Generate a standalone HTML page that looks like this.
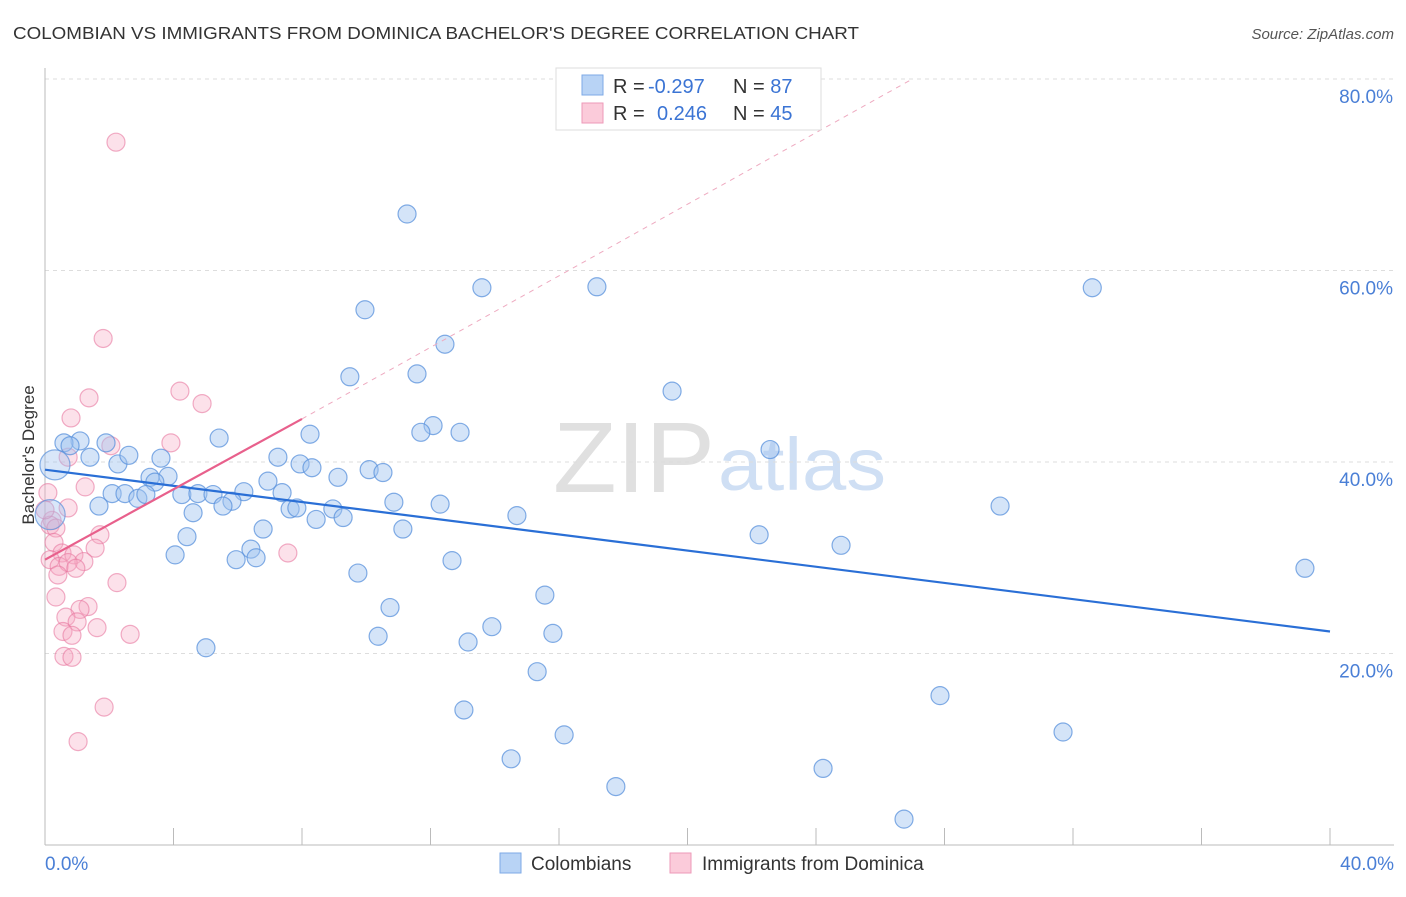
<!DOCTYPE html>
<html><head><meta charset="utf-8">
<style>
body{margin:0;background:#fff;font-family:"Liberation Sans",sans-serif;}
svg text{font-family:"Liberation Sans",sans-serif;}
</style></head>
<body>
<svg id="chart" width="1406" height="892" viewBox="0 0 1406 892" xmlns="http://www.w3.org/2000/svg">
<text x="13" y="39" font-size="17.5" fill="#333" textLength="846" lengthAdjust="spacingAndGlyphs">COLOMBIAN VS IMMIGRANTS FROM DOMINICA BACHELOR'S DEGREE CORRELATION CHART</text>
<text x="1394" y="39" font-size="15" fill="#555" font-style="italic" text-anchor="end">Source: ZipAtlas.com</text>
<g>
<text x="553" y="492" font-size="100" fill="#e0e0e0" font-family="Liberation Serif" textLength="162" lengthAdjust="spacingAndGlyphs">ZIP</text>
<text x="718" y="490" font-size="74" fill="#cfdff4" textLength="168" lengthAdjust="spacingAndGlyphs">atlas</text>
</g>
<g id="grid"></g>
<g id="axes"></g>
<g id="pts"></g>
<g id="lines"></g>
<text transform="translate(34,455) rotate(-90)" font-size="17" fill="#333" text-anchor="middle">Bachelor's Degree</text>
<text x="45" y="870" font-size="19" fill="#4a7fd6">0.0%</text>
<text x="1394" y="870" font-size="19" fill="#4a7fd6" text-anchor="end">40.0%</text>
<g>
<rect x="556" y="68" width="265" height="62" fill="#fff" stroke="#ddd"/>
<rect x="582" y="75" width="21" height="20" fill="#b8d3f5" stroke="#7eaae6"/>
<rect x="582" y="103" width="21" height="20" fill="#fbcbda" stroke="#ee9ab8"/>
<text x="613" y="93" font-size="20" fill="#333">R = <tspan fill="#3b74d4" x="648">-0.297</tspan></text>
<text x="733" y="93" font-size="20" fill="#333">N = <tspan fill="#3b74d4">87</tspan></text>
<text x="613" y="120" font-size="20" fill="#333">R = <tspan fill="#3b74d4" x="657">0.246</tspan></text>
<text x="733" y="120" font-size="20" fill="#333">N = <tspan fill="#3b74d4">45</tspan></text>
</g>
<g>
<rect x="500" y="853" width="21" height="20" fill="#b8d3f5" stroke="#7eaae6"/>
<text x="531" y="870" font-size="19" fill="#333">Colombians</text>
<rect x="670" y="853" width="21" height="20" fill="#fbcbda" stroke="#ee9ab8"/>
<text x="702" y="870" font-size="19" fill="#333">Immigrants from Dominica</text>
</g>
</svg>
<script>
const blueX=[11.27,13.6,17.18,32.6,9.96,12.45,9.49,11.58,19.52,5.42,8.25,12.08,11.7,12.92,22.57,1.9,1.09,0.59,0.78,1.4,2.27,2.61,3.61,3.27,3.83,3.42,7.25,7.94,8.31,9.12,10.09,10.52,6.94,6.19,7.38,2.09,2.49,2.89,3.14,4.26,4.76,5.23,5.82,5.54,4.61,1.68,7.63,7.84,8.96,8.44,9.28,10.86,12.3,14.69,29.73,6.79,11.14,4.42,22.23,24.78,4.05,6.41,6.57,5.95,12.67,9.74,39.22,15.56,10.74,13.91,10.37,15.81,13.17,5.01,15.32,27.86,13.04,31.69,16.16,14.51,24.22,17.77,26.74];
const blueY=[65.9,58.2,58.3,58.2,55.9,52.3,48.9,49.2,47.4,42.5,42.9,43.8,43.1,43.1,41.3,42.0,42.2,42.0,41.7,40.5,39.8,40.7,40.4,38.4,38.5,37.9,40.5,39.8,39.4,38.4,39.2,38.9,38.0,36.9,36.8,36.7,36.7,36.2,36.6,36.6,36.7,36.6,35.9,35.4,34.7,35.4,35.1,35.2,35.1,34.0,34.2,35.8,35.6,34.4,35.4,33.0,33.0,32.2,32.4,31.3,30.3,30.9,30.0,29.8,29.7,28.4,28.9,26.1,24.8,22.8,21.8,22.1,21.2,20.6,18.1,15.6,14.1,11.8,11.5,9.0,8.0,6.1,2.7];
const blueBigX=[0.31,0.16];
const blueBigY=[39.7,34.5];
const pinkX=[2.21,1.81,4.2,4.89,1.37,0.81,2.05,3.92,0.72,0.09,1.25,0.72,0.22,0.16,0.34,1.71,0.28,1.56,0.53,0.9,0.16,0.44,1.21,0.72,0.96,0.4,7.56,2.24,0.34,1.34,1.09,0.65,1.0,1.62,2.65,0.56,0.84,0.59,0.84,1.84,1.03,0.0];
const pinkY=[73.4,52.9,47.4,46.1,46.7,44.6,41.7,42.0,40.5,36.8,37.4,35.2,33.9,33.4,33.1,32.4,31.6,31.0,30.5,30.3,29.8,29.1,29.6,29.5,28.9,28.2,30.5,27.4,25.9,24.9,24.6,23.8,23.3,22.7,22.0,22.3,21.9,19.7,19.6,14.4,10.8,35.0];
const blueTrend=[[0,39.2],[40,22.3]];
const pinkTrend=[[0,29.8],[8,44.5]];
const pinkDash=[[8,44.5],[27,80]];
const yTicks=[20,40,60,80];
const yTickLabels=["20.0%","40.0%","60.0%","80.0%"];
const xTicks=[0,4,8,12,16,20,24,28,32,36,40];

const NS="http://www.w3.org/2000/svg";
const sx=v=>45+v*32.125;
const sy=v=>845-v*9.575;
function mk(tag,attrs,parent){const e=document.createElementNS(NS,tag);for(const k in attrs)e.setAttribute(k,attrs[k]);parent.appendChild(e);return e;}
const grid=document.getElementById('grid'),axes=document.getElementById('axes'),pts=document.getElementById('pts'),lines=document.getElementById('lines');
yTicks.forEach((t,i)=>{
 const l=mk('line',{x1:45,x2:1394,y1:sy(t),y2:sy(t),stroke:'#ddd','stroke-dasharray':'4,4'},grid);
 
 
 const tx=mk('text',{x:1393,y:sy(t)+24,'font-size':19,fill:'#4a7fd6','text-anchor':'end'},grid);
 tx.textContent=yTickLabels[i];
 
 
});
const ax1=mk('line',{x1:45,x2:45,y1:68,y2:845,stroke:'#bbb'},axes);


const ax2=mk('line',{x1:45,x2:1394,y1:845,y2:845,stroke:'#bbb'},axes);


xTicks.forEach(t=>{
 const l=mk('line',{x1:sx(t),x2:sx(t),y1:828,y2:845,stroke:'#bbb'},axes);
 
 
});
pinkX.forEach((x,i)=>{
 const c=mk('circle',{cx:sx(x),cy:sy(pinkY[i]),r:9,fill:'rgba(246,170,196,0.35)',stroke:'rgba(232,120,160,0.6)','stroke-width':1.2},pts);
 
 
});
blueX.forEach((x,i)=>{
 const c=mk('circle',{cx:sx(x),cy:sy(blueY[i]),r:9,fill:'rgba(160,196,240,0.45)',stroke:'rgba(90,145,220,0.75)','stroke-width':1.2},pts);
 
 
});
blueBigX.forEach((x,i)=>{
 const c=mk('circle',{cx:sx(x),cy:sy(blueBigY[i]),r:15,fill:'rgba(160,196,240,0.4)',stroke:'rgba(90,145,220,0.7)','stroke-width':1.2},pts);
 
 
});
const bl=mk('line',{x1:sx(blueTrend[0][0]),y1:sy(blueTrend[0][1]),x2:sx(blueTrend[1][0]),y2:sy(blueTrend[1][1]),stroke:'#2a6fd6','stroke-width':2.2},lines);


const pl=mk('line',{x1:sx(pinkTrend[0][0]),y1:sy(pinkTrend[0][1]),x2:sx(pinkTrend[1][0]),y2:sy(pinkTrend[1][1]),stroke:'#e8608c','stroke-width':2.2},lines);


const pd=mk('line',{x1:sx(pinkDash[0][0]),y1:sy(pinkDash[0][1]),x2:sx(pinkDash[1][0]),y2:sy(pinkDash[1][1]),stroke:'#eeaac0','stroke-width':1,'stroke-dasharray':'5,5'},lines);


</script>
</body></html>
